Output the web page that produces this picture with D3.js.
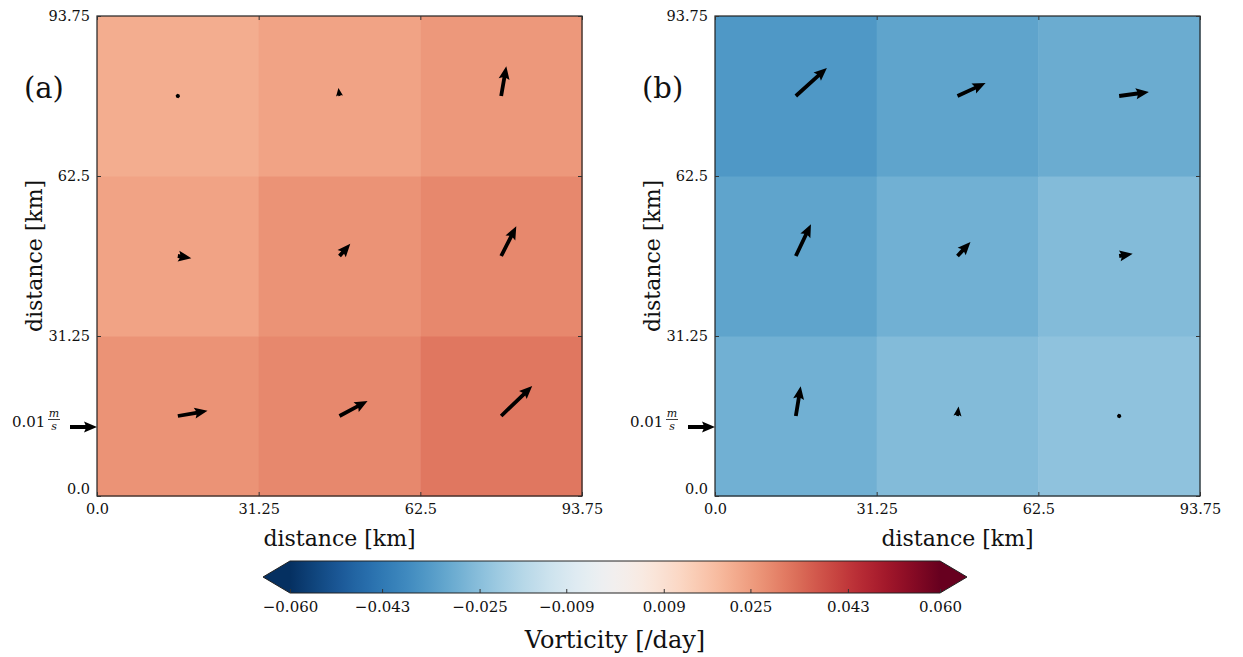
<!DOCTYPE html>
<html lang="en">
<head>
    <meta charset="UTF-8">
    <title>vorticity panels</title>
    <style>
        body{
            margin: 0;
            overflow: hidden;
            background: #fff;
        }
        text{
            font-family: "DejaVu Serif", serif;
            fill: #111;
        }
    </style>
</head>
<body>
    <script src="https://cdnjs.cloudflare.com/ajax/libs/d3/7.8.2/d3.min.js"></script>
    <script>

// ---- data ----
const cellCenters = [15.625, 46.875, 78.125]      // km, cell centres (x and y)
const axisTicks = [0.0, 31.25, 62.5, 93.75]
const axisTickLabels = ['0.0', '31.25', '62.5', '93.75']

// vorticity [/day], rows listed bottom -> top, columns left -> right
const vortA = [
    [0.027, 0.029, 0.032],
    [0.024, 0.027, 0.029],
    [0.022, 0.024, 0.026]
]
const vortB = [
    [-0.029, -0.026, -0.024],
    [-0.032, -0.029, -0.026],
    [-0.035, -0.032, -0.030]
]

// velocity [m/s], rows bottom -> top
const uA = [
    [0.0110, 0.0104, 0.0115],
    [0.0050, 0.0040, 0.0056],
    [0.0003, -0.0004, 0.0019]
]
const vA = [
    [0.0019, 0.0056, 0.0111],
    [-0.0008, 0.0045, 0.0110],
    [0.0003, 0.0030, 0.0110]
]
const uB = [
    [0.0018, 0.0004, 0.0003],
    [0.0056, 0.0048, 0.0050],
    [0.0115, 0.0104, 0.0110]
]
const vB = [
    [0.0110, 0.0035, 0.0003],
    [0.0118, 0.0052, 0.0008],
    [0.0104, 0.0048, 0.0015]
]

const keySpeed = 0.01
const cbarTicks = [-0.060, -0.043, -0.025, -0.009, 0.009, 0.025, 0.043, 0.060]

// ---- layout ----
const W = 1243, H = 657
const svg = d3.select('body').append('svg')
    .attr('width', W)
    .attr('height', H)

const color = d3.scaleSequential(t => d3.interpolateRdBu(1 - t)).domain([-0.06, 0.06])
const arrowLen = d3.scaleLinear().domain([0, keySpeed]).range([0, 27])

// quiver style (pixels)
const shaftW = 3.8, headL = 13, headAL = 11.5, headW = 11

function arrowPath(len){
    let pts
    if (len < shaftW * 0.6){
        const r = shaftW * 0.6
        pts = d3.range(6).map(i => [r * Math.cos(i * Math.PI / 3), r * Math.sin(i * Math.PI / 3)])
    } else {
        const L = Math.max(len, headL)
        const s = len < headL ? len / headL : 1
        pts = [
            [0, -shaftW / 2], [L - headAL, -shaftW / 2], [L - headL, -headW / 2],
            [L, 0], [L - headL, headW / 2], [L - headAL, shaftW / 2], [0, shaftW / 2]
        ].map(p => [p[0] * s, p[1] * s])
    }
    return d3.line()(pts) + 'Z'
}

function panel(x0, label, vort, U, V){
    const x = d3.scaleLinear().domain([0, 93.75]).range([x0, x0 + 485])
    const y = d3.scaleLinear().domain([0, 93.75]).range([496, 16])
    const g = svg.append('g')
    const cw = 31.25

    const cells = []
    vort.forEach((row, j) => row.forEach((v, i) => cells.push({i, j, v})))

    g.selectAll('rect.cell')
        .data(cells)
        .join('rect')
        .attr('class', 'cell')
        .attr('x', d => x(cellCenters[d.i] - cw / 2))
        .attr('y', d => y(cellCenters[d.j] + cw / 2))
        .attr('width', x(cw) - x(0) + 0.5)
        .attr('height', y(0) - y(cw) + 0.5)
        .attr('fill', d => color(d.v))

    const arrows = []
    U.forEach((row, j) => row.forEach((u, i) => arrows.push({i, j, u, v: V[j][i]})))

    g.selectAll('path.arrow')
        .data(arrows)
        .join('path')
        .attr('class', 'arrow')
        .attr('transform', d => {
            const ang = Math.atan2(-d.v, d.u) * 180 / Math.PI
            return `translate(${x(cellCenters[d.i])},${y(cellCenters[d.j])}) rotate(${ang})`
        })
        .attr('d', d => arrowPath(arrowLen(Math.hypot(d.u, d.v))))
        .attr('fill', '#000')

    // frame
    g.append('rect')
        .attr('x', x(0)).attr('y', y(93.75))
        .attr('width', x(93.75) - x(0)).attr('height', y(0) - y(93.75))
        .attr('fill', 'none').attr('stroke', '#222').attr('stroke-width', 1.2)

    // axes with inward ticks
    g.append('g').attr('transform', `translate(0,${y(0)})`)
        .call(d3.axisBottom(x).tickValues(axisTicks).tickSize(-4)
            .tickFormat((d, i) => axisTickLabels[i]).tickPadding(8))
    const ay = g.append('g').attr('transform', `translate(${x(0)},0)`)
        .call(d3.axisLeft(y).tickValues(axisTicks).tickSize(-4)
            .tickFormat((d, i) => axisTickLabels[i]).tickPadding(7))
    g.append('g').attr('transform', `translate(0,${y(93.75)})`)
        .call(d3.axisTop(x).tickValues(axisTicks).tickSize(-4).tickFormat(''))
    g.append('g').attr('transform', `translate(${x(93.75)},0)`)
        .call(d3.axisRight(y).tickValues(axisTicks).tickSize(-4).tickFormat(''))
    g.selectAll('.domain').remove()
    g.selectAll('.tick line').attr('stroke', '#333')
    g.selectAll('.tick text').style('font-size', '14.5px').style('font-family', '"DejaVu Serif", serif').attr('fill', '#111')
    ay.selectAll('.tick text').attr('dy', (d) => d === 0 ? '-0.15em' : '0.32em')

    // labels
    g.append('text')
        .attr('x', (x(0) + x(93.75)) / 2).attr('y', 546)
        .attr('text-anchor', 'middle').style('font-size', '22px')
        .text('distance [km]')
    g.append('text')
        .attr('transform', `translate(${x0 - 55},256) rotate(-90)`)
        .attr('text-anchor', 'middle').style('font-size', '22px')
        .text('distance [km]')
    g.append('text')
        .attr('x', x0 - 73).attr('y', 98)
        .style('font-size', '29px')
        .text(label)

    // quiver key
    const ky = 427
    g.append('path')
        .attr('transform', `translate(${x0 - 27},${ky})`)
        .attr('d', arrowPath(arrowLen(keySpeed)))
        .attr('fill', '#000')
    g.append('text')
        .attr('x', x0 - 85).attr('y', ky)
        .style('font-size', '15px')
        .text('0.01')
    g.append('text')
        .attr('x', x0 - 43).attr('y', ky - 10)
        .attr('text-anchor', 'middle')
        .style('font-size', '11px').style('font-style', 'italic')
        .text('m')
    g.append('line')
        .attr('x1', x0 - 49).attr('x2', x0 - 37)
        .attr('y1', ky - 7.5).attr('y2', ky - 7.5)
        .attr('stroke', '#111').attr('stroke-width', 0.8)
    g.append('text')
        .attr('x', x0 - 43).attr('y', ky + 3)
        .attr('text-anchor', 'middle')
        .style('font-size', '11px').style('font-style', 'italic')
        .text('s')
}

panel(97, '(a)', vortA, uA, vA)
panel(715, '(b)', vortB, uB, vB)

// ---- colorbar ----
const cb = {x0: 290, x1: 940, y0: 561, y1: 593, ext: 27}
const cx = d3.scaleLinear().domain([-0.06, 0.06]).range([cb.x0, cb.x1])
const defs = svg.append('defs')
const grad = defs.append('linearGradient').attr('id', 'cbgrad')
grad.selectAll('stop')
    .data(d3.range(0, 1.0001, 0.02))
    .join('stop')
    .attr('offset', d => d)
    .attr('stop-color', d => color(-0.06 + d * 0.12))

const cbg = svg.append('g')
cbg.append('rect')
    .attr('x', cb.x0).attr('y', cb.y0)
    .attr('width', cb.x1 - cb.x0).attr('height', cb.y1 - cb.y0)
    .attr('fill', 'url(#cbgrad)')
const ym = (cb.y0 + cb.y1) / 2
cbg.append('path')
    .attr('d', d3.line()([[cb.x0, cb.y0], [cb.x0 - cb.ext, ym], [cb.x0, cb.y1]]) + 'Z')
    .attr('fill', color(-0.06))
cbg.append('path')
    .attr('d', d3.line()([[cb.x1, cb.y0], [cb.x1 + cb.ext, ym], [cb.x1, cb.y1]]) + 'Z')
    .attr('fill', color(0.06))
cbg.append('path')
    .attr('d', d3.line()([[cb.x0, cb.y0], [cb.x0 - cb.ext, ym], [cb.x0, cb.y1],
        [cb.x1, cb.y1], [cb.x1 + cb.ext, ym], [cb.x1, cb.y0]]) + 'Z')
    .attr('fill', 'none').attr('stroke', '#222').attr('stroke-width', 1)

const cax = cbg.append('g').attr('transform', `translate(0,${cb.y1})`)
    .call(d3.axisBottom(cx).tickValues(cbarTicks).tickSize(-4).tickPadding(8)
        .tickFormat(d => (d < 0 ? '\u2212' : '') + Math.abs(d).toFixed(3)))
cax.select('.domain').remove()
cax.selectAll('.tick line').attr('stroke', '#333')
cax.selectAll('.tick text').style('font-size', '15px').style('font-family', '"DejaVu Serif", serif').attr('fill', '#111')

svg.append('text')
    .attr('x', (cb.x0 + cb.x1) / 2).attr('y', 648)
    .attr('text-anchor', 'middle').style('font-size', '24px')
    .text('Vorticity [/day]')

    </script>
</body>
</html>
